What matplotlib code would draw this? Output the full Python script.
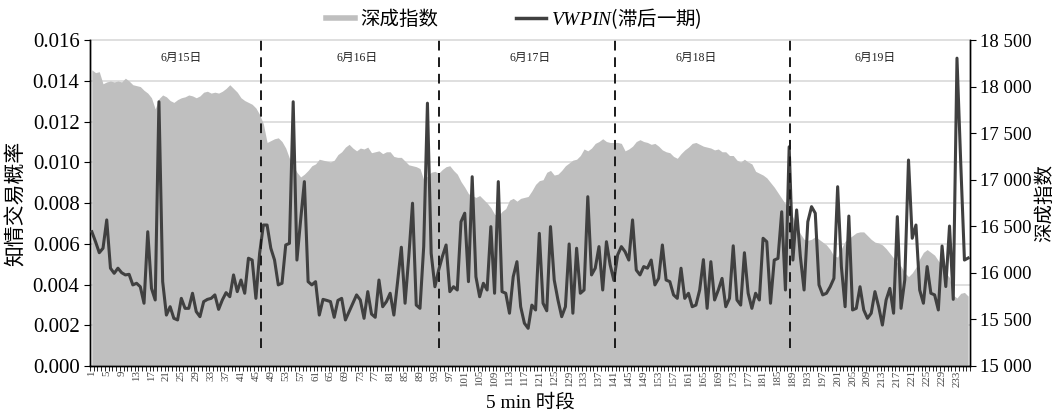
import numpy as np
import matplotlib
matplotlib.use("Agg")
import matplotlib.pyplot as plt
from matplotlib.ticker import FuncFormatter, MultipleLocator
from matplotlib.lines import Line2D

plt.rcParams['font.family'] = ['Liberation Serif', 'Noto Sans CJK SC']
plt.rcParams['mathtext.fontset'] = 'custom'
plt.rcParams['mathtext.it'] = 'Liberation Serif:italic'
plt.rcParams['mathtext.rm'] = 'Liberation Serif'

# 5-minute periods, 236 in total over five trading days
periods = np.arange(1, 237)

# Shenzhen component index (right axis)
szci = [
    18180, 18150, 18160, 18030, 18050, 18060, 18050, 18060, 18050, 18090,
    18060, 18020, 18010, 18000, 17960, 17930, 17880, 17760, 17870, 17910,
    17890, 17850, 17830, 17860, 17880, 17890, 17910, 17900, 17880, 17900,
    17940, 17950, 17930, 17940, 17930, 17950, 17980, 18020, 17980, 17940,
    17880, 17850, 17830, 17810, 17770, 17700, 17600,
    17400, 17420, 17440, 17450, 17410, 17340, 17230, 17150, 17080, 17030,
    17060, 17100, 17150, 17170, 17220, 17210, 17200, 17190, 17210, 17270,
    17300, 17350, 17380, 17340, 17310, 17340, 17330, 17350, 17290, 17300,
    17310, 17280, 17300, 17300, 17250, 17240, 17240, 17200, 17160, 17150,
    17140, 17120, 17000, 17040, 17080, 17090, 17070,
    17110, 17140, 17150, 17100, 17060, 16980, 16920, 16850, 16830, 16810,
    16830, 16790, 16750, 16700, 16630, 16610, 16660, 16690, 16780, 16800,
    16770, 16800, 16810, 16820, 16880, 16950, 16990, 17000, 17080, 17100,
    17050, 17060, 17100, 17150, 17180, 17210, 17220, 17260, 17330, 17310,
    17340, 17390, 17410, 17440, 17410, 17400, 17400,
    17400, 17390, 17310, 17330, 17360, 17410, 17430, 17410, 17400, 17380,
    17390, 17360, 17320, 17300, 17290, 17250, 17230, 17280, 17320, 17350,
    17390, 17400, 17380, 17360, 17350, 17340, 17320, 17330, 17300, 17300,
    17260, 17260, 17210, 17190, 17220, 17190, 17170, 17090, 17070, 17050,
    17020, 16970, 16920, 16860, 16800, 16740, 16680,
    16600, 16500, 16420, 16360, 16350, 16360, 16390, 16360, 16330, 16300,
    16250, 16180, 16170, 16260, 16340, 16370, 16400, 16430, 16440, 16440,
    16400, 16360, 16330, 16320, 16300, 16260, 16210, 16160, 16110, 16070,
    16000, 15960, 16000, 16060, 16150, 16220, 16250, 16220, 16190, 16130,
    16080, 16000, 15950, 15760, 15730, 15780, 15790, 15750,
]

# VWPIN, lagged one period (left axis)
vwpin = [
    0.00659, 0.00610, 0.00556, 0.00578, 0.00717, 0.00480, 0.00455, 0.00480, 0.00458, 0.00447,
    0.00450, 0.00398, 0.00406, 0.00389, 0.00308, 0.00659, 0.00381, 0.00324, 0.01297, 0.00414,
    0.00250, 0.00291, 0.00234, 0.00226, 0.00332, 0.00283, 0.00283, 0.00357, 0.00267, 0.00242,
    0.00316, 0.00327, 0.00332, 0.00349, 0.00278, 0.00324, 0.00360, 0.00340, 0.00447, 0.00365,
    0.00422, 0.00357, 0.00529, 0.00520, 0.00332, 0.00553, 0.00692, 0.00692,
    0.00578, 0.00520, 0.00398, 0.00406, 0.00594, 0.00602, 0.01297, 0.00520, 0.00717, 0.00905,
    0.00414, 0.00398, 0.00414, 0.00250, 0.00327, 0.00322, 0.00316, 0.00239, 0.00322, 0.00332,
    0.00226, 0.00267, 0.00308, 0.00349, 0.00324, 0.00234, 0.00365, 0.00255, 0.00239, 0.00422,
    0.00291, 0.00316, 0.00357, 0.00250, 0.00414, 0.00583, 0.00308, 0.00537, 0.00799, 0.00299,
    0.00283, 0.00586, 0.01290, 0.00553, 0.00389, 0.00470,
    0.00537, 0.00594, 0.00365, 0.00389, 0.00373, 0.00708, 0.00750, 0.00414, 0.00929, 0.00438,
    0.00340, 0.00406, 0.00373, 0.00684, 0.00357, 0.00905, 0.00365, 0.00357, 0.00259, 0.00438,
    0.00512, 0.00291, 0.00210, 0.00185, 0.00299, 0.00275, 0.00651, 0.00308, 0.00271, 0.00684,
    0.00422, 0.00324, 0.00242, 0.00291, 0.00599, 0.00259, 0.00578, 0.00357, 0.00373, 0.00831,
    0.00447, 0.00480, 0.00586, 0.00373, 0.00610, 0.00496, 0.00420,
    0.00545, 0.00586, 0.00561, 0.00520, 0.00717, 0.00471, 0.00447, 0.00488, 0.00480, 0.00520,
    0.00398, 0.00430, 0.00594, 0.00422, 0.00414, 0.00349, 0.00332, 0.00480, 0.00332, 0.00357,
    0.00291, 0.00299, 0.00373, 0.00522, 0.00283, 0.00512, 0.00324, 0.00373, 0.00430, 0.00291,
    0.00332, 0.00590, 0.00324, 0.00299, 0.00556, 0.00357, 0.00283, 0.00357, 0.00324, 0.00627,
    0.00610, 0.00308, 0.00520, 0.00528, 0.00757, 0.00373, 0.01076,
    0.00520, 0.00766, 0.00537, 0.00373, 0.00708, 0.00782, 0.00750, 0.00398, 0.00349, 0.00357,
    0.00389, 0.00430, 0.00880, 0.00488, 0.00291, 0.00736, 0.00275, 0.00283, 0.00389, 0.00275,
    0.00234, 0.00259, 0.00365, 0.00291, 0.00201, 0.00324, 0.00381, 0.00259, 0.00733, 0.00283,
    0.00422, 0.01011, 0.00627, 0.00692, 0.00373, 0.00308, 0.00488, 0.00357, 0.00349, 0.00275,
    0.00589, 0.00390, 0.00687, 0.00327, 0.01511, 0.01000, 0.00520, 0.00530,
]

day_labels = ['6月15日', '6月16日', '6月17日', '6月18日', '6月19日']
day_label_pos = [25, 72, 118.5, 163, 211]
day_breaks = [46.5, 94, 141.3, 188.2]

fig = plt.figure(figsize=(10.62, 4.16), dpi=100)
ax = fig.add_axes([0.0847, 0.1202, 0.8287, 0.7836])
ax2 = ax.twinx()
ax.set_zorder(ax2.get_zorder() + 1)
ax.patch.set_visible(False)

# area series on the right axis
ax2.fill_between(periods, 15000, szci, color='#bfbfbf', linewidth=0, zorder=2)
ax2.set_ylim(15000, 18500)
ax2.yaxis.set_major_locator(MultipleLocator(500))
ax2.yaxis.set_major_formatter(FuncFormatter(lambda v, p: f"{int(v):,}".replace(",", " ")))

# left-axis gridlines drawn behind the area
left_ticks = np.arange(0, 0.0161, 0.002)
for t in left_ticks:
    ax2.plot([0, 1], [t, t], transform=ax.get_yaxis_transform(),
             color='#d9d9d9', lw=1.2, zorder=0, clip_on=False)

ax.plot(periods, vwpin, color='#404040', lw=2.2, zorder=3)
ax.vlines(day_breaks, 0.0009, 0.016, colors='#1a1a1a', linestyles=(0, (5, 3.5)),
          lw=1.4, zorder=4)
for lab, xp in zip(day_labels, day_label_pos):
    ax.text(xp, 0.0151, lab, ha='center', va='center', fontsize=8.5,
            family=['Liberation Serif', 'Noto Sans CJK SC'], color='#222222')

ax.set_ylim(0, 0.016)
ax.set_xlim(0.5, 236.5)
ax.set_yticks(left_ticks)
ax.yaxis.set_major_formatter(FuncFormatter(lambda v, p: f"{v:.3f}"))
ax.set_xticks(np.arange(1, 237, 4))
ax.set_xticks(np.arange(0.5, 237, 1), minor=True)
ax.tick_params(axis='x', which='major', length=0, labelsize=7.8, rotation=90,
               labelcolor='#444444', pad=3)
ax.tick_params(axis='x', which='minor', length=3.5, width=0.6, direction='out')
ax.tick_params(axis='y', labelsize=15, length=4, direction='out')
ax2.tick_params(axis='y', labelsize=13.5, length=4, direction='out', pad=3)

for a in (ax, ax2):
    a.spines['top'].set_visible(False)
    for s in ('left', 'right', 'bottom'):
        a.spines[s].set_linewidth(1.0)

ax.set_ylabel('知情交易概率', fontsize=15, labelpad=4)
ax2.set_ylabel('深成指数', fontsize=14, labelpad=3)
ax.set_xlabel('5 min 时段', fontsize=14, labelpad=5)

handles = [Line2D([], [], color='#bfbfbf', lw=4),
           Line2D([], [], color='#404040', lw=2.5)]
fig.legend(handles, ['深成指数', r'$\mathit{VWPIN}$(滞后一期)'],
           loc='center', bbox_to_anchor=(0.484, 0.955), ncol=2, frameon=False,
           handlelength=1.5, handletextpad=0.3, columnspacing=4.0,
           prop={'family': ['Noto Sans CJK SC'], 'size': 14})

fig.savefig('out.png', dpi=100)
